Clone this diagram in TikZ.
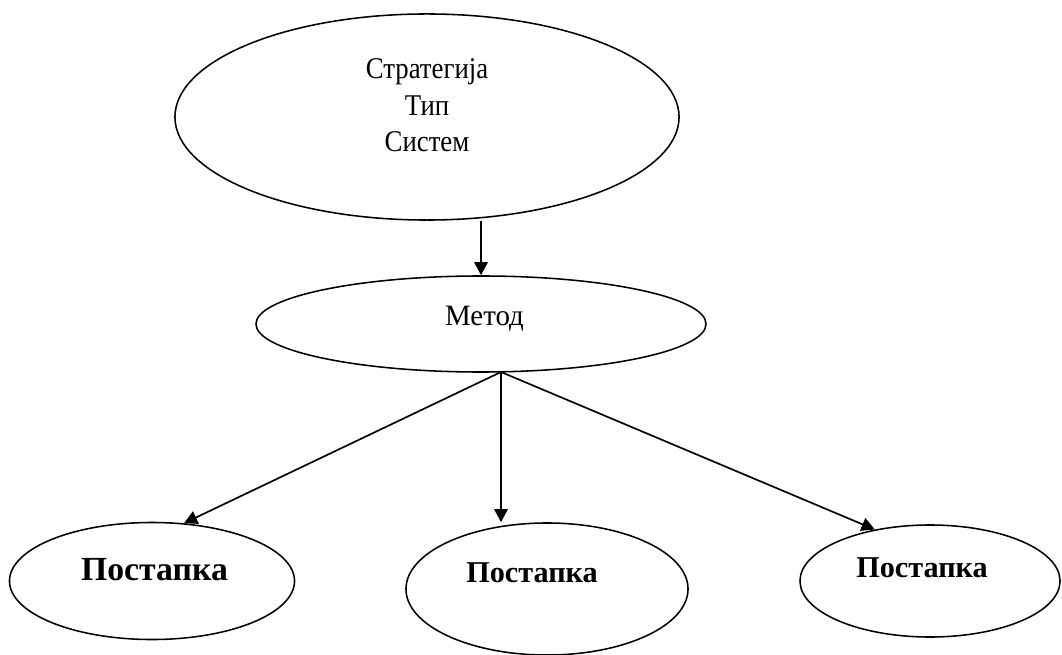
\documentclass[tikz,border=0pt]{standalone}
\usepackage{graphicx}
\usepackage{fontspec}
\setmainfont{Liberation Serif}
\usetikzlibrary{shapes.geometric,arrows.meta}
\begin{document}
\begin{tikzpicture}[x=0.025cm,y=-0.025cm,
  oval/.style={draw,ellipse,line width=1.1pt,inner sep=0pt},
  arr/.style={line width=1.2pt,-{Triangle[length=0.33cm,width=0.34cm]}},
  lbl/.style={inner sep=0pt,anchor=base},
  toptxt/.style={lbl,font=\fontsize{21.4}{26}\selectfont}]
\useasboundingbox (0,0) rectangle (1062,655);
\node[oval,minimum width=12.6cm,minimum height=5.15cm] (top) at (427,117) {};
\node[oval,minimum width=11.25cm,minimum height=2.4cm] (m) at (481,324) {};
\node[oval,minimum width=7.125cm,minimum height=2.925cm] (l) at (152,581) {};
\node[oval,minimum width=7.05cm,minimum height=3.3cm] (c) at (547,589) {};
\node[oval,minimum width=6.5cm,minimum height=2.8cm] (r) at (930,581) {};
\node[toptxt] (t1) at (427,79) {\scalebox{0.89}[1]{Стратегија}};
\node[toptxt] (t2) at (427,115.5) {\scalebox{0.89}[1]{Тип}};
\node[toptxt] (t3) at (427,152) {\scalebox{0.89}[1]{Систем}};
\node[lbl,font=\fontsize{21}{24}\selectfont] (tm) at (484.5,325) {\scalebox{0.98}[1]{Метод}};
\node[lbl,font=\fontsize{24}{28}\selectfont\bfseries] (tl) at (154.5,580) {Постапка};
\node[lbl,font=\fontsize{21.5}{26}\selectfont\bfseries] (tc) at (532,582) {Постапка};
\node[lbl,font=\fontsize{21.5}{26}\selectfont\bfseries] (tr) at (922,577) {Постапка};
\coordinate (ms) at (501,372);
\draw[arr] (top.south -| m.north) -- (m.north);
\draw[arr] (ms) -- (l.61.5);
\draw[arr] (ms) -- (ms |- c.north);
\draw[arr] (ms) -- (r.137);
\end{tikzpicture}
\end{document}
